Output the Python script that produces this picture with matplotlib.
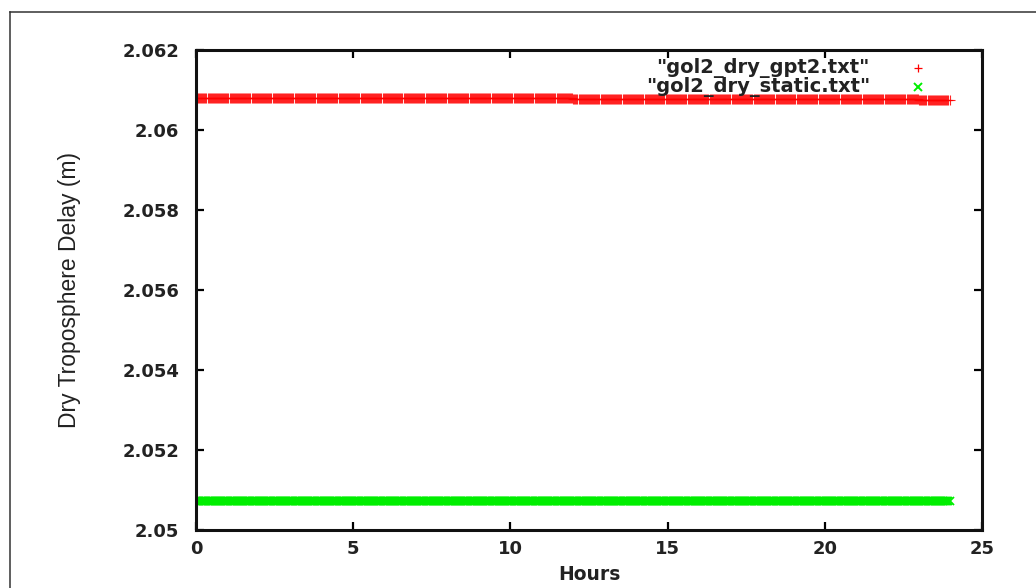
import numpy as np
import matplotlib
matplotlib.use("Agg")
import matplotlib.pyplot as plt
from matplotlib.lines import Line2D

# Hourly dry tropospheric delay (m) at station GOL2, two models
hours_of_day = list(range(24))
gpt2_delay = [2.06080, 2.06080, 2.06080, 2.06080, 2.06080, 2.06080,
              2.06079, 2.06079, 2.06079, 2.06079, 2.06079, 2.06079,
              2.06078, 2.06078, 2.06078, 2.06078, 2.06078, 2.06078,
              2.06077, 2.06077, 2.06077, 2.06077, 2.06077, 2.06076]
static_delay = [2.050725] * 24

series_labels = ['"gol2_dry_gpt2.txt"', '"gol2_dry_static.txt"']
x_ticks = [0, 5, 10, 15, 20, 25]
y_ticks = [2.050, 2.052, 2.054, 2.056, 2.058, 2.060, 2.062]
y_tick_labels = ["2.05", "2.052", "2.054", "2.056", "2.058", "2.06", "2.062"]

# 2-minute epochs within each hour
epochs_per_hour = 30
t = np.arange(24 * epochs_per_hour) / epochs_per_hour
gpt2_epochs = np.repeat(gpt2_delay, epochs_per_hour)
static_epochs = np.repeat(static_delay, epochs_per_hour)

fig = plt.figure(figsize=(10.36, 5.88), dpi=100)
ax = fig.add_axes([196 / 1036, 58 / 588, 786 / 1036, 480 / 588])

red = "#ff0000"
green = "#00ee00"
l1, = ax.plot(t, gpt2_epochs, linestyle="none", marker="+", color=red,
              markersize=6.5, markeredgewidth=0.8, alpha=0.85)
l2, = ax.plot(t, static_epochs, linestyle="none", marker="x", color=green,
              markersize=6, markeredgewidth=1.3)
l1.set_snap(False)
l2.set_snap(False)

ax.set_xlim(0, 25)
ax.set_ylim(2.05, 2.062)
ax.set_xticks(x_ticks)
ax.set_yticks(y_ticks)
ax.set_yticklabels(y_tick_labels)

for lab in ax.get_xticklabels() + ax.get_yticklabels():
    lab.set_fontfamily("DejaVu Sans")
    lab.set_fontweight("bold")
    lab.set_fontsize(13)

ax.tick_params(direction="in", length=6, width=1.6, top=True, right=True,
               labelcolor="#222222")
ax.tick_params(axis="x", pad=7)
ax.tick_params(axis="y", pad=12)
for sp in ax.spines.values():
    sp.set_linewidth(2.2)
    sp.set_color("#111111")

ax.set_xlabel("Hours", family="DejaVu Sans", weight="bold", size=13.5,
              labelpad=5, color="#222222")
ax.set_ylabel("Dry Troposphere Delay (m)", family="Liberation Sans",
              size=16.5, labelpad=30, color="#222222")

# Key in the upper right corner: right-aligned labels, marker after
key_rows = [(0.9625, "+", red, 6, 0.9), (0.923, "x", green, 5.5, 1.4)]
for (yk, mk, col, ms, mew), label in zip(key_rows, series_labels):
    ax.text(0.8575, yk, label, transform=ax.transAxes, ha="right",
            va="center", family="DejaVu Sans", weight="bold", size=14,
            color="#222222")
    ax.plot([0.9186], [yk], transform=ax.transAxes, linestyle="none",
            marker=mk, color=col, markersize=ms, markeredgewidth=mew,
            clip_on=False)

# Outer frame around the figure
fig.add_artist(Line2D([10 / 1036, 1.0], [1 - 12 / 588, 1 - 12 / 588],
                      transform=fig.transFigure, color="#333333", lw=1.1))
fig.add_artist(Line2D([10 / 1036, 10 / 1036], [0.0, 1 - 12 / 588],
                      transform=fig.transFigure, color="#333333", lw=1.1))

fig.savefig("out.png", dpi=100)
